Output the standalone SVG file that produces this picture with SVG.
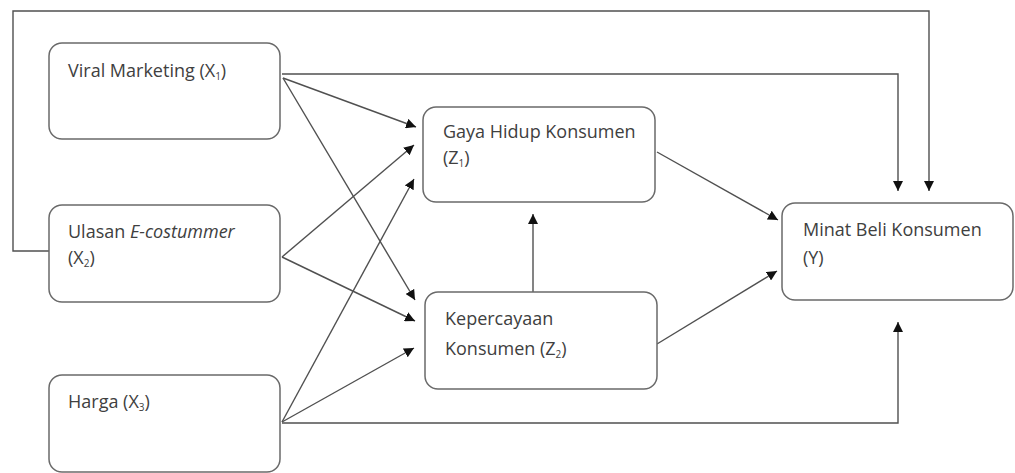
<svg xmlns="http://www.w3.org/2000/svg" width="1015" height="473" viewBox="0 0 1015 473">
<style>
.box{fill:#fff;stroke:#6a6a6a;stroke-width:1.5}
.t{font-family:"Open Sans","Liberation Sans",sans-serif;font-size:18px;fill:#404040}
.s{font-size:10px}
.c{fill:none;stroke:#505050;stroke-width:1.4}
</style>
<defs>
<marker id="ah" viewBox="0 0 10 10" refX="10" refY="5" markerWidth="10" markerHeight="10" markerUnits="userSpaceOnUse" orient="auto">
<path d="M0,0 L10,5 L0,10 z" fill="#111"/>
</marker>
</defs>
<rect width="1015" height="473" fill="#fff"/>
<g id="connectors">
<path class="c" d="M49,251 H13 V11 H929 V191" marker-end="url(#ah)"/>
<path class="c" d="M282,74 H898 V191" marker-end="url(#ah)"/>
<path class="c" d="M282,423 H898 V322" marker-end="url(#ah)"/>
<path class="c" d="M283,78 L416,127" marker-end="url(#ah)"/>
<path class="c" d="M282,257 L414,145" marker-end="url(#ah)"/>
<path class="c" d="M282,422 L414,179" marker-end="url(#ah)"/>
<path class="c" d="M283,78 L415,300" marker-end="url(#ah)"/>
<path class="c" d="M282,257 L415,321" marker-end="url(#ah)"/>
<path class="c" d="M282,422 L414,348" marker-end="url(#ah)"/>
<path class="c" d="M533,292 V214" marker-end="url(#ah)"/>
<path class="c" d="M657,152 L778,220" marker-end="url(#ah)"/>
<path class="c" d="M657,344 L777,271" marker-end="url(#ah)"/>
</g>
<g id="x1">
<rect class="box" x="49" y="43" width="231" height="96" rx="13"/>
<text class="t" x="68" y="77">Viral Marketing (X<tspan class="s" dy="3">1</tspan><tspan dy="-3">)</tspan></text>
</g>
<g id="x2">
<rect class="box" x="49" y="205" width="231" height="97" rx="13"/>
<text class="t" x="68" y="238">Ulasan <tspan font-style="italic">E-costummer</tspan></text>
<text class="t" x="68" y="264">(X<tspan class="s" dy="3">2</tspan><tspan dy="-3">)</tspan></text>
</g>
<g id="x3">
<rect class="box" x="49" y="375" width="231" height="97" rx="13"/>
<text class="t" x="68" y="408">Harga (X<tspan class="s" dy="3">3</tspan><tspan dy="-3">)</tspan></text>
</g>
<g id="z1">
<rect class="box" x="423" y="107" width="232" height="95" rx="13"/>
<text class="t" x="443" y="138">Gaya Hidup Konsumen</text>
<text class="t" x="443" y="164">(Z<tspan class="s" dy="3">1</tspan><tspan dy="-3">)</tspan></text>
</g>
<g id="z2">
<rect class="box" x="425" y="292" width="232" height="97" rx="13"/>
<text class="t" x="445" y="325">Kepercayaan</text>
<text class="t" x="445" y="355">Konsumen (Z<tspan class="s" dy="3">2</tspan><tspan dy="-3">)</tspan></text>
</g>
<g id="y">
<rect class="box" x="782" y="203" width="231" height="97" rx="13"/>
<text class="t" x="803" y="236">Minat Beli Konsumen</text>
<text class="t" x="803" y="264">(Y)</text>
</g>
</svg>
